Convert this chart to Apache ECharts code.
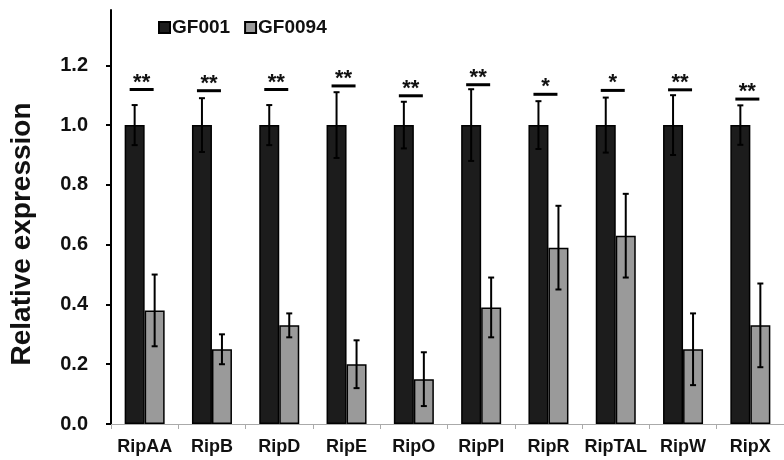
<!DOCTYPE html>
<html>
<head>
<meta charset="utf-8">
<script src="https://cdn.jsdelivr.net/npm/echarts@6/dist/echarts.min.js"></script>
<style>
  html, body { margin: 0; padding: 0; background: #fff; }
  #chart { width: 784px; height: 460px; }
</style>
</head>
<body>
<div id="chart"></div>
<script>
const categories = ['RipAA', 'RipB', 'RipD', 'RipE', 'RipO', 'RipPI', 'RipR', 'RipTAL', 'RipW', 'RipX']
const gf001 = [1, 1, 1, 1, 1, 1, 1, 1, 1, 1]
const gf001Err = [0.067, 0.09, 0.067, 0.11, 0.078, 0.12, 0.08, 0.092, 0.1, 0.066]
const gf0094 = [0.38, 0.25, 0.33, 0.2, 0.15, 0.39, 0.59, 0.63, 0.25, 0.33]
const gf0094Err = [0.12, 0.05, 0.04, 0.08, 0.09, 0.1, 0.14, 0.14, 0.12, 0.14]
// height of the significance bar above each pair, and its mark
const sigLevel = [1.119, 1.115, 1.119, 1.131, 1.098, 1.135, 1.103, 1.116, 1.118, 1.087]
const sigMark = ['**', '**', '**', '**', '**', '**', '*', '*', '**', '**']
const yTicks = [0, 0.2, 0.4, 0.6, 0.8, 1.0, 1.2]

const FONT = 'Liberation Sans, Arial, sans-serif'
const BAR_W = 20

const chart = echarts.init(document.getElementById('chart'), null, { renderer: 'canvas' })

function errorBar(offset) {
  return function (params, api) {
    const i = api.value(0)
    const x = api.coord([i, 0])[0] + offset
    const yTop = api.coord([i, api.value(1) + api.value(2)])[1]
    const yBot = api.coord([i, api.value(1) - api.value(2)])[1]
    const st = { stroke: '#000', lineWidth: 2 }
    return {
      type: 'group',
      children: [
        { type: 'line', shape: { x1: x, y1: yTop, x2: x, y2: yBot }, style: st },
        { type: 'line', shape: { x1: x - 3, y1: yTop, x2: x + 3, y2: yTop }, style: st },
        { type: 'line', shape: { x1: x - 3, y1: yBot, x2: x + 3, y2: yBot }, style: st },
      ],
    }
  }
}

function sigBar(params, api) {
  const i = api.value(0)
  const p = api.coord([i, api.value(1)])
  const cx = p[0] - 3
  return {
    type: 'group',
    children: [
      { type: 'line', shape: { x1: cx - 12, y1: p[1], x2: cx + 12, y2: p[1] }, style: { stroke: '#000', lineWidth: 3 } },
      {
        type: 'text',
        x: cx,
        y: p[1] + 4,
        style: {
          text: sigMark[i],
          font: 'bold 22px ' + FONT,
          fill: '#111',
          align: 'center',
          verticalAlign: 'bottom',
        },
      },
    ],
  }
}

chart.setOption({
  backgroundColor: '#fff',
  animation: false,
  textStyle: { fontFamily: FONT },
  legend: {
    data: ['GF001', 'GF0094'],
    left: 153,
    top: 13,
    icon: 'rect',
    itemWidth: 11,
    itemHeight: 11,
    itemGap: 14,
    textStyle: { fontSize: 19, fontWeight: 'bold', color: '#111', fontFamily: FONT, padding: [0, 0, 0, -3] },
  },
  graphic: [
    {
      type: 'text',
      x: 22,
      y: 234,
      rotation: Math.PI / 2,
      style: {
        text: 'Relative expression',
        font: 'bold 28px ' + FONT,
        fill: '#111',
        align: 'center',
        verticalAlign: 'middle',
      },
    },
  ],
  grid: { left: 111, right: -9, top: 10, bottom: 36 },
  xAxis: {
    type: 'category',
    data: categories,
    axisLine: { lineStyle: { color: '#aaa', width: 1 } },
    axisTick: { show: true, length: 5, lineStyle: { color: '#aaa' } },
    axisLabel: { fontSize: 18, fontWeight: 'bold', color: '#111', margin: 14, interval: 0 },
  },
  yAxis: {
    type: 'value',
    min: 0,
    max: 1.385,
    splitLine: { show: false },
    axisLine: { show: true, lineStyle: { color: '#000', width: 2 } },
    axisTick: { show: true, length: 5, lineStyle: { color: '#000', width: 2 }, customValues: yTicks },
    axisLabel: {
      fontSize: 20,
      fontWeight: 'bold',
      color: '#111',
      margin: 23,
      customValues: yTicks,
      formatter: (v) => v.toFixed(1),
    },
  },
  series: [
    {
      name: 'GF001',
      type: 'bar',
      data: gf001,
      barWidth: BAR_W,
      barGap: '0%',
      itemStyle: { color: '#1c1c1c', borderColor: '#000', borderWidth: 1.5 },
    },
    {
      name: 'GF0094',
      type: 'bar',
      data: gf0094,
      barWidth: BAR_W,
      itemStyle: { color: '#9a9a9a', borderColor: '#000', borderWidth: 1.5 },
    },
    {
      type: 'custom',
      renderItem: errorBar(-BAR_W / 2),
      data: categories.map((c, i) => [i, gf001[i], gf001Err[i]]),
      z: 5,
    },
    {
      type: 'custom',
      renderItem: errorBar(BAR_W / 2),
      data: categories.map((c, i) => [i, gf0094[i], gf0094Err[i]]),
      z: 5,
    },
    {
      type: 'custom',
      renderItem: sigBar,
      data: categories.map((c, i) => [i, sigLevel[i]]),
      z: 5,
    },
  ],
})
</script>
</body>
</html>
